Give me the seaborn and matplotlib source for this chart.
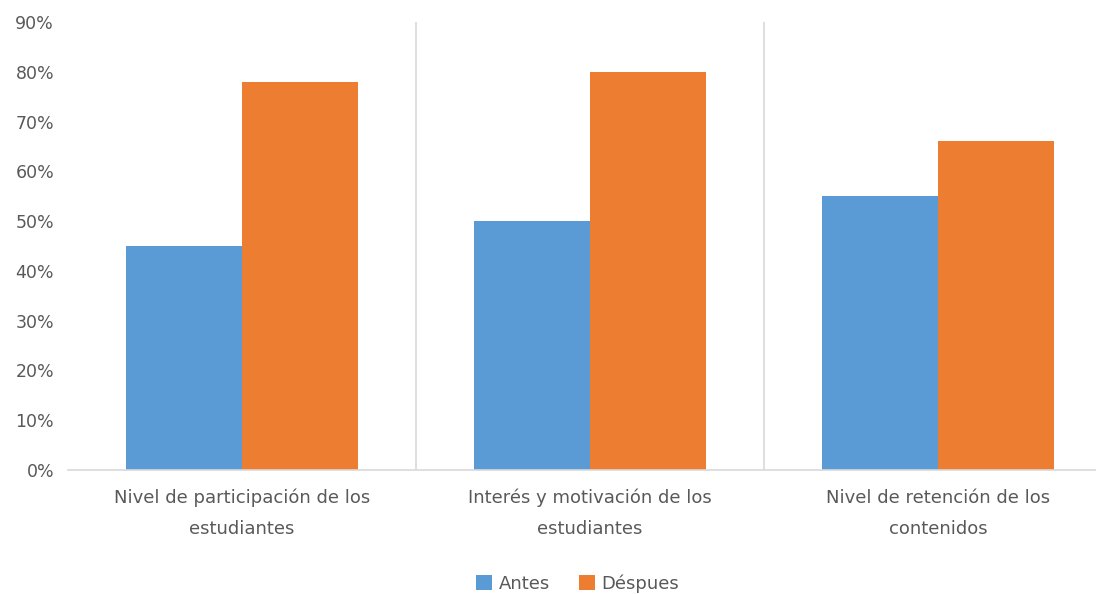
import matplotlib
matplotlib.use("Agg")
import matplotlib.pyplot as plt
import seaborn as sns
import pandas as pd
from matplotlib.ticker import PercentFormatter
from matplotlib.patches import Patch

categories = ["Nivel de participación de los\nestudiantes",
              "Interés y motivación de los\nestudiantes",
              "Nivel de retención de los\ncontenidos"]
antes = [0.45, 0.50, 0.55]
despues = [0.78, 0.80, 0.66]
series = ["Antes", "Déspues"]
colors = ["#5B9BD5", "#ED7D31"]

df = pd.DataFrame({
    "cat": categories * 2,
    "serie": [series[0]] * 3 + [series[1]] * 3,
    "val": antes + despues,
})

sns.set_theme(style="white")
plt.rcParams["font.family"] = ["DejaVu Sans"]

fig = plt.figure(figsize=(10.96, 5.94), dpi=100)
ax = fig.add_axes([0.062, 0.2088, 0.938, 0.7542])

sns.barplot(data=df, x="cat", y="val", hue="serie", palette=colors,
            width=0.667, saturation=1, ax=ax, legend=False, linewidth=0)

ax.set_xlim(-0.5, 2.454)
ax.set_ylim(0, 0.9)
ax.set_yticks([i / 10 for i in range(10)])
ax.yaxis.set_major_formatter(PercentFormatter(1.0, decimals=0))
ax.set_xlabel("")
ax.set_ylabel("")

for s in ["top", "right", "left"]:
    ax.spines[s].set_visible(False)
ax.spines["bottom"].set_color("#d9d9d9")
ax.spines["bottom"].set_linewidth(1.2)

for xb in [0.5, 1.5]:
    ax.axvline(xb, color="#d9d9d9", linewidth=1.2, zorder=0)

ax.tick_params(axis="y", length=0, labelsize=12.5, labelcolor="#595959", pad=10)
ax.tick_params(axis="x", length=0, labelsize=13, labelcolor="#595959", pad=13.5)
for t in ax.get_yticklabels():
    t.set_ha("right")
for t in ax.get_xticklabels():
    t.set_linespacing(1.93)

handles = [Patch(facecolor=c, edgecolor="none") for c in colors]
fig.legend(handles, series, loc="center", bbox_to_anchor=(0.527, 0.018),
           ncol=2, frameon=False, fontsize=13, labelcolor="#595959",
           handlelength=0.9, handleheight=0.9, handletextpad=0.35,
           columnspacing=1.6)

fig.savefig("out.png", dpi=100, facecolor="white")
